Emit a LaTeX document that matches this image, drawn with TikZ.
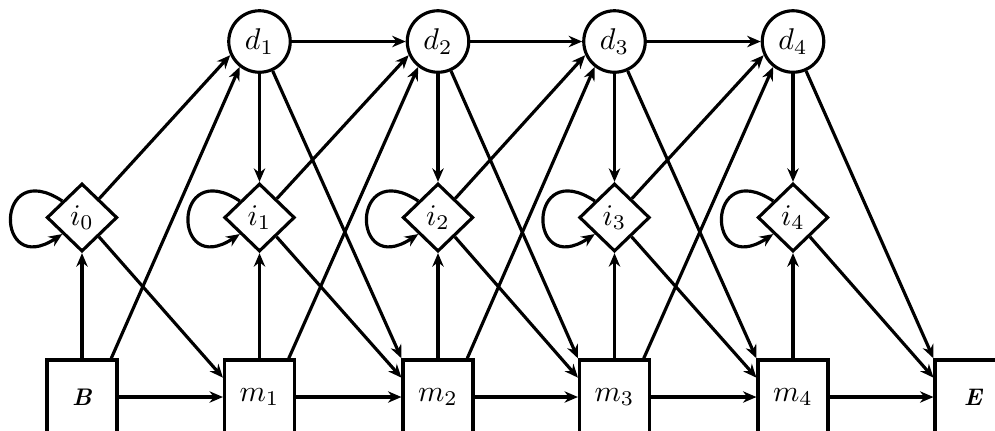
\documentclass[tikz,border=0pt]{standalone}
\usetikzlibrary{shapes.geometric,arrows.meta,calc}
\begin{document}
\begin{tikzpicture}[x=0.33333pt,y=-0.33333pt,line width=1.05pt,
  arr/.style={-{Stealth[length=4.5pt,width=3.8pt]}},
  dnode/.style={circle,draw,minimum size=20.5pt,inner sep=0pt},
  inode/.style={diamond,draw,minimum width=23.5pt,minimum height=22.7pt,inner sep=0pt},
  mnode/.style={rectangle,draw,minimum width=23.3pt,minimum height=24.7pt,inner sep=0pt},
  endlabel/.style={font=\footnotesize\bfseries\itshape}]
\useasboundingbox (0,0) rectangle (995,430);
\clip (0,0) rectangle (995,430);
\foreach \k/\x in {0/82,1/259.5,2/438,3/614.5,4/793}
  \node[inode] (i\k) at (\x,217.5) {$i_\k$};
\foreach \k/\x in {1/259.5,2/438,3/614.5,4/793}
  \node[dnode] (d\k) at (\x,41.5) {$d_\k$};
\foreach \k/\x in {1/259.5,2/438,3/614.5,4/793}
  \node[mnode] (m\k) at (\x,397) {$m_\k$};
\node[mnode,endlabel] (m0) at (82,397) {B};
\node[mnode,endlabel] (m5) at (970,397) {\hspace*{2pt}E};
\foreach \k in {0,...,4}{
  \pgfmathtruncatemacro\n{\k+1}
  \draw[arr] (m\k) -- (i\k);
  \draw[arr] (m\k.east) -- (m\n.west);
  \draw[arr] (i\k) -- ($(m\n.west)!0.5!(m\n.north west)$);
  \draw[arr] (i\k.140) .. controls +(-68,-45) and +(-68,45) .. (i\k.220);
}
\foreach \k in {0,...,3}{
  \pgfmathtruncatemacro\n{\k+1}
  \draw[arr] ($(m\k.north)!0.8!(m\k.north east)$) -- (d\n.232);
  \draw[arr] (i\k) -- (d\n.205);
}
\foreach \k in {1,...,4}{
  \pgfmathtruncatemacro\n{\k+1}
  \draw[arr] (d\k) -- (i\k);
  \draw[arr] (d\k) -- (m\n.north west);
}
\foreach \k in {1,...,3}{
  \pgfmathtruncatemacro\n{\k+1}
  \draw[arr] (d\k) -- (d\n);
}
\end{tikzpicture}
\end{document}
